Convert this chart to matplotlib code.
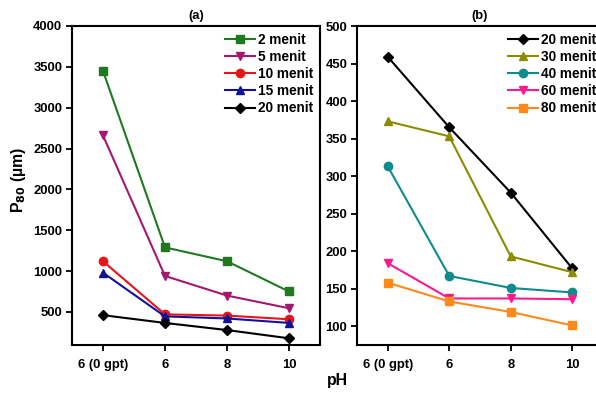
import matplotlib
matplotlib.use('Agg')
import matplotlib.pyplot as plt

plt.rcParams['font.family'] = ['Liberation Sans', 'DejaVu Sans']
plt.rcParams['font.weight'] = 'bold'
plt.rcParams['mathtext.default'] = 'bf'

ph_labels = ['6 (0 gpt)', '6', '8', '10']

# panel (a)
a_names = ['2 menit', '5 menit', '10 menit', '15 menit', '20 menit']
a_2 = [3450, 1290, 1120, 750]
a_5 = [2660, 940, 700, 545]
a_10 = [1120, 470, 455, 410]
a_15 = [980, 445, 420, 365]
a_20 = [460, 365, 278, 177]
a_colors = ['#1f7a1f', '#a5186e', '#e8141a', '#10129a', '#000000']
a_markers = ['s', 'v', 'o', '^', 'D']

# panel (b)
b_names = ['20 menit', '30 menit', '40 menit', '60 menit', '80 menit']
b_20 = [459, 365, 278, 177]
b_30 = [373, 353, 193, 172]
b_40 = [313, 167, 151, 145]
b_60 = [184, 137, 137, 136]
b_80 = [158, 133, 119, 101]
b_colors = ['#000000', '#8c8c00', '#0e8c8c', '#ff1a8c', '#ff8a1a']
b_markers = ['D', '^', 'o', 'v', 's']

fig = plt.figure(figsize=(5.96, 3.93), dpi=100)
ax1 = fig.add_axes([72 / 596, 1 - 345 / 393, 248 / 596, 319 / 393])
ax2 = fig.add_axes([357 / 596, 1 - 345 / 393, 246 / 596, 319 / 393])

x = list(range(len(ph_labels)))
tick_fs = 9.4


def draw(ax, series, names, colors, markers):
    for ys, name, c, m in zip(series, names, colors, markers):
        ms = 5 if m == 'D' else 6
        ax.plot(x, ys, color=c, marker=m, markersize=ms, linewidth=1.5, label=name)
    ax.set_xlim(-0.5, 3.5)
    ax.set_xticks(x)
    ax.set_xticklabels(ph_labels)
    for sp in ax.spines.values():
        sp.set_linewidth(1.5)
    ax.tick_params(axis='both', which='major', direction='out', length=4, width=1.3,
                   labelsize=tick_fs, top=False, right=False, pad=3)
    ax.tick_params(axis='x', pad=6)
    leg = ax.legend(loc='upper right', frameon=False, handlelength=2.2,
                    handletextpad=0.2, labelspacing=0.23, borderaxespad=0.1,
                    prop={'weight': 'bold', 'size': 9.8})
    return leg


draw(ax1, [a_2, a_5, a_10, a_15, a_20], a_names, a_colors, a_markers)
ax1.set_ylim(95, 4000)
ax1.set_yticks([500, 1000, 1500, 2000, 2500, 3000, 3500, 4000])
ax1.set_title('(a)', fontsize=tick_fs, fontweight='bold', pad=5)

draw(ax2, [b_20, b_30, b_40, b_60, b_80], b_names, b_colors, b_markers)
ax2.set_ylim(75, 500)
ax2.set_yticks([100, 150, 200, 250, 300, 350, 400, 450, 500])
ax2.set_title('(b)', fontsize=tick_fs, fontweight='bold', pad=5)

for ax in (ax1, ax2):
    for lab in ax.get_xticklabels() + ax.get_yticklabels():
        lab.set_fontweight('bold')

fig.text(18 / 596, 1 - 180 / 393, r'P$_{80}$ (µm)', rotation=90, ha='center', va='center',
         fontsize=11.4, fontweight='bold')
fig.text(337 / 596, 1 - 381 / 393, 'pH', ha='center', va='center', fontsize=11.4, fontweight='bold')

fig.savefig('out.png', dpi=100)
